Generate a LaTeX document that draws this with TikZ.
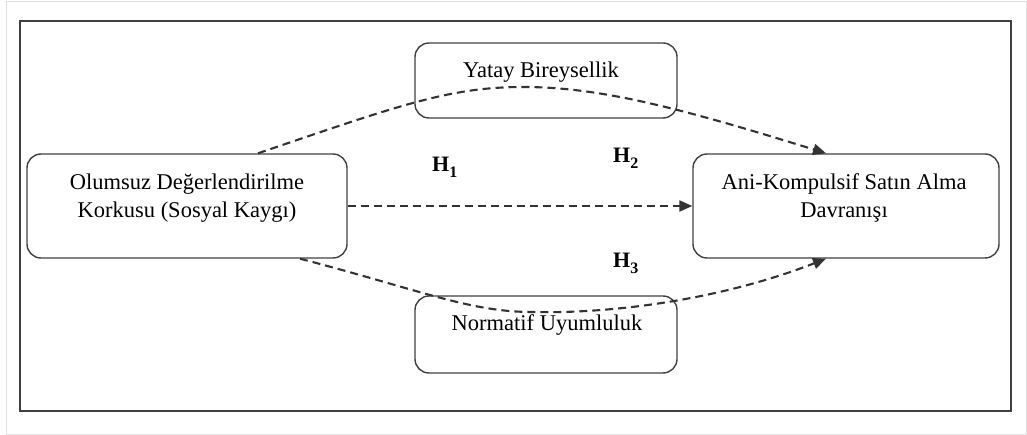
\documentclass[tikz,border=0pt]{standalone}
\usepackage{fontspec}
\setmainfont{Liberation Serif}
\usetikzlibrary{arrows.meta,calc}
\newcommand{\hsub}[1]{\raisebox{-6pt}{\fontsize{16}{16}\selectfont #1}}
\begin{document}
\begin{tikzpicture}[x=1pt,y=-1pt,
  box/.style={draw=black!75,line width=1.4pt,rounded corners=14pt,inner sep=0pt},
  txt/.style={font=\fontsize{22.5}{28}\selectfont,align=center,inner sep=0pt,text=black},
  hlab/.style={font=\fontsize{22}{26}\selectfont\bfseries,inner sep=0pt},
  conn/.style={line width=2.1pt,dash pattern=on 8pt off 5pt,draw=black!80,
    -{Triangle[length=13pt,width=11pt]}}]
\useasboundingbox (0,0) rectangle (1027,435);
\draw[black!12,line width=1pt] (6,1.5) rectangle (1026,434);
\draw[black!75,line width=2.2pt] (20,21) rectangle (1011,411);
% boxes
\node[box,minimum width=320pt,minimum height=104pt] (L) at (187,206) {};
\node[box,minimum width=262pt,minimum height=75pt] (T) at (546,80.5) {};
\node[box,minimum width=262pt,minimum height=77pt] (B) at (546,334.5) {};
\node[box,minimum width=306pt,minimum height=104pt] (R) at (846,206) {};
% texts
\node[txt] (Lt) at (187,198) {Olumsuz Değerlendirilme\\Korkusu (Sosyal Kaygı)};
\node[txt] (Tt) at (541,72) {Yatay Bireysellik};
\node[txt] (Rt) at (844,198) {Ani-Kompulsif Satın Alma\\Davranışı};
\node[txt] (Bt) at (547,325) {Normatif Uyumluluk};
% hypothesis labels
\node[hlab,anchor=base west] (H1) at (432,172) {H\hsub{1}};
\node[hlab,anchor=base west] (H2) at (613,163) {H\hsub{2}};
\node[hlab,anchor=base west] (H3) at (613,268) {H\hsub{3}};
% connectors
\coordinate (tp) at (523,87);
\coordinate (bp) at (532,312);
\draw[conn] ([xshift=71pt]L.north) .. controls (400,105) and (450,87) .. (tp)
  .. controls (600,87) and (680,108) .. ([xshift=-20pt]R.north);
\draw[conn] (L.east) -- (R.west);
\draw[conn] ([xshift=113pt]L.south) .. controls (420,290) and (470,312) .. (bp)
  .. controls (610,314) and (720,300) .. ([xshift=-20pt]R.south);
\end{tikzpicture}
\end{document}
